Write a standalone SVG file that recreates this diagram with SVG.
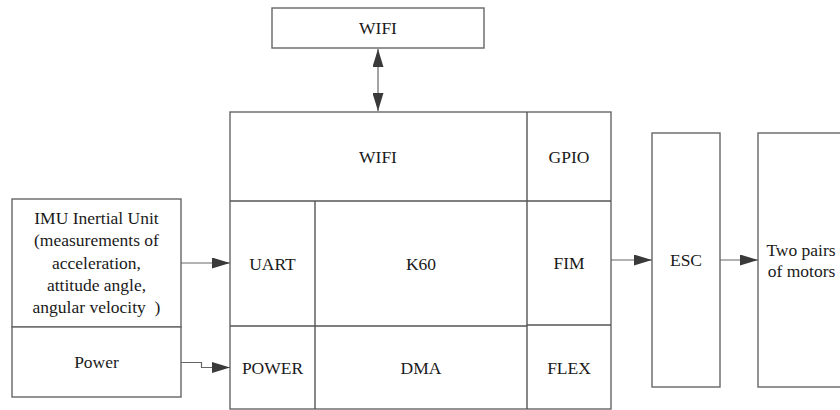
<svg xmlns="http://www.w3.org/2000/svg" width="840" height="410" viewBox="0 0 840 410">
<style>
.box{fill:#fff;stroke:#666;stroke-width:1.4}
.div{stroke:#555;stroke-width:1.4;fill:none}
text{font-family:"Liberation Serif","Times New Roman",serif;font-size:17.5px;fill:#1a1a1a;text-anchor:middle}
.c{stroke:#666;stroke-width:1.2;fill:none}
</style>
<defs>
<marker id="ah" markerUnits="userSpaceOnUse" markerWidth="18" markerHeight="11" refX="18" refY="5.5" orient="auto-start-reverse" viewBox="0 0 18 11">
<path d="M0,0 L18,5.5 L0,11 z" fill="#3a3a3a"/>
</marker>
</defs>
<rect width="840" height="410" fill="#fff"/>
<g id="wifi-top">
<rect class="box" x="272" y="8" width="212" height="40"/>
<text x="378" y="34">WIFI</text>
</g>
<g id="k60-board">
<rect class="box" x="230" y="112" width="381" height="297"/>
<line class="div" x1="230" y1="201" x2="611" y2="201"/>
<line class="div" x1="527" y1="112" x2="527" y2="409"/>
<line class="div" x1="315" y1="201" x2="315" y2="409"/>
<line class="div" x1="230" y1="326" x2="527" y2="326"/>
<line class="div" x1="527" y1="325" x2="611" y2="325"/>
<text x="378" y="162.5">WIFI</text>
<text x="569" y="162.5">GPIO</text>
<text x="272.5" y="269.5">UART</text>
<text x="421" y="269.5">K60</text>
<text x="569" y="268.5">FIM</text>
<text x="272.5" y="374">POWER</text>
<text x="421" y="374">DMA</text>
<text x="569" y="373.5">FLEX</text>
</g>
<g id="imu">
<rect class="box" x="12" y="199" width="169" height="128"/>
<text x="96.5" y="224">IMU Inertial Unit</text>
<text x="96.5" y="246.3">(measurements of</text>
<text x="96.5" y="268.6">acceleration,</text>
<text x="96.5" y="290.9">attitude angle,</text>
<text x="96.5" y="313.2" xml:space="preserve">angular velocity  )</text>
</g>
<g id="power">
<rect class="box" x="12" y="327" width="169" height="70"/>
<text x="96.5" y="368">Power</text>
</g>
<g id="esc">
<rect class="box" x="652" y="133" width="68" height="254"/>
<text x="686" y="266">ESC</text>
</g>
<g id="motors">
<rect class="box" x="758" y="133" width="86" height="254"/>
<text x="801" y="256">Two pairs</text>
<text x="801.5" y="276.5">of motors</text>
</g>
<g id="connectors">
<line class="c" x1="378" y1="49" x2="378" y2="111" marker-start="url(#ah)" marker-end="url(#ah)"/>
<line class="c" x1="181" y1="263" x2="230" y2="263" marker-end="url(#ah)"/>
<polyline class="c" points="181,362.5 201.5,362.5 201.5,367.5 230,367.5" marker-end="url(#ah)"/>
<line class="c" x1="611" y1="260" x2="652" y2="260" marker-end="url(#ah)"/>
<line class="c" x1="720" y1="260" x2="758" y2="260" marker-end="url(#ah)"/>
</g>
</svg>
